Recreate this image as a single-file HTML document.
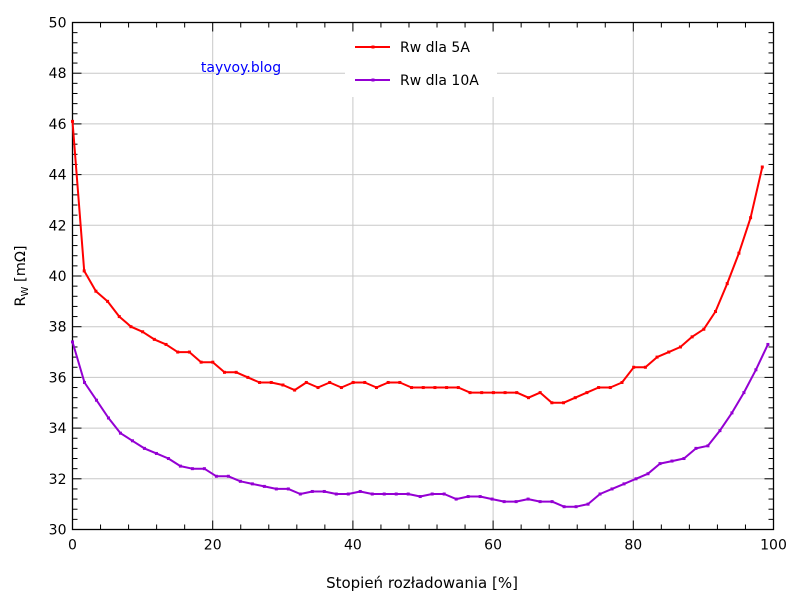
<!DOCTYPE html>
<html><head><meta charset="utf-8"><style>body{margin:0;background:#fff}svg{display:block}text{font-family:"DejaVu Sans","Liberation Sans",sans-serif}</style></head>
<body>
<svg id="s" width="800" height="600" xmlns="http://www.w3.org/2000/svg">
<rect width="800" height="600" fill="#fff"/>
<g id="grid" stroke="#c8c8c8" stroke-width="1"></g>
<rect x="345" y="30" width="152" height="67" fill="#fff"/>
<g id="ticks" stroke="#000" stroke-width="1"></g>
<rect x="72.5" y="22.5" width="701" height="507" fill="none" stroke="#000" stroke-width="1.3"/>
<g id="lbl" font-size="14" fill="#000"></g>
<text x="241" y="72" font-size="14" fill="#0000ff" text-anchor="middle">tayvoy.blog</text>
<line x1="355" y1="47" x2="390" y2="47" stroke="#ff0000" stroke-width="2"/>
<rect x="371.5" y="45.5" width="3" height="3" fill="#ff0000"/>
<text x="400" y="52" font-size="14">Rw dla 5A</text>
<line x1="355" y1="80" x2="390" y2="80" stroke="#9400d3" stroke-width="2"/>
<rect x="371.5" y="78.5" width="3" height="3" fill="#9400d3"/>
<text x="400" y="85" font-size="14">Rw dla 10A</text>
<text x="422" y="588" font-size="15" text-anchor="middle">Stopień rozładowania [%]</text>
<text transform="translate(25,276) rotate(-90)" font-size="14.5" text-anchor="middle">R<tspan font-size="10" dy="3">W</tspan><tspan dy="-3"> [mΩ]</tspan></text>
<g id="series"></g>
</svg>
<script>
var L=72.5,R=773.5,T=22.5,B=529.5,NS="http://www.w3.org/2000/svg";
function X(v){return L+(R-L)*v/100}function Y(v){return B-(B-T)*(v-30)/20}
function el(p,n,a){var e=document.createElementNS(NS,n);for(var k in a)e.setAttribute(k,a[k]);document.getElementById(p).appendChild(e);return e}
for(var v=20;v<100;v+=20)el('grid','line',{x1:X(v),x2:X(v),y1:T,y2:B});
for(var v=32;v<50;v+=2)el('grid','line',{x1:L,x2:R,y1:Y(v),y2:Y(v)});
for(var v=0;v<=100;v+=4){var m=(v%20==0)?9:5;el('ticks','line',{x1:X(v),x2:X(v),y1:B,y2:B-m});el('ticks','line',{x1:X(v),x2:X(v),y1:T,y2:T+m});}
for(var v=30;v<=50.01;v+=0.4){var r=Math.round(v*10)/10,m=(Math.abs(r%2)<0.01)?9:5;el('ticks','line',{x1:L,x2:L+m,y1:Y(r),y2:Y(r)});el('ticks','line',{x1:R,x2:R-m,y1:Y(r),y2:Y(r)});}
for(var v=0;v<=100;v+=20){var t=el('lbl','text',{x:X(v),y:B+20,'text-anchor':'middle'});t.textContent=v;}
for(var v=30;v<=50;v+=2){var t=el('lbl','text',{x:L-6,y:Y(v)+5,'text-anchor':'end'});t.textContent=v;}
var red=[46.1,40.2,39.4,39.0,38.4,38.0,37.8,37.5,37.3,37.0,37.0,36.6,36.6,36.2,36.2,36.0,35.8,35.8,35.7,35.5,35.8,35.6,35.8,35.6,35.8,35.8,35.6,35.8,35.8,35.6,35.6,35.6,35.6,35.6,35.4,35.4,35.4,35.4,35.4,35.2,35.4,35.0,35.0,35.2,35.4,35.6,35.6,35.8,36.4,36.4,36.8,37.0,37.2,37.6,37.9,38.6,39.7,40.9,42.3,44.3];
var pur=[37.4,35.8,35.1,34.4,33.8,33.5,33.2,33.0,32.8,32.5,32.4,32.4,32.1,32.1,31.9,31.8,31.7,31.6,31.6,31.4,31.5,31.5,31.4,31.4,31.5,31.4,31.4,31.4,31.4,31.3,31.4,31.4,31.2,31.3,31.3,31.2,31.1,31.1,31.2,31.1,31.1,30.9,30.9,31.0,31.4,31.6,31.8,32.0,32.2,32.6,32.7,32.8,33.2,33.3,33.9,34.6,35.4,36.3,37.3];
function draw(d,step,c){var p=[];d.forEach(function(v,i){var x=X(i*step),y=Y(v);p.push(x.toFixed(1)+','+y.toFixed(1));el('series','rect',{x:x-1.5,y:y-1.5,width:3,height:3,fill:c});});
el('series','polyline',{points:p.join(' '),fill:'none',stroke:c,'stroke-width':2,'stroke-linejoin':'round'});}
draw(red,98.4/59,'#ff0000');draw(pur,99.2/58,'#9400d3');
</script>
</body></html>
